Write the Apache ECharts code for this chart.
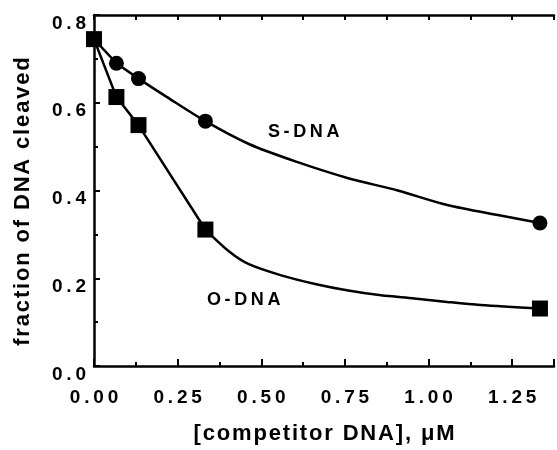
<!DOCTYPE html>
<html>
<head>
<meta charset="utf-8">
<script src="https://cdn.jsdelivr.net/npm/echarts@6/dist/echarts.min.js"></script>
<style>html,body{margin:0;padding:0;background:#fff}#c{width:557px;height:450px}</style>
</head>
<body>
<div id="c"></div>
<script>
// measured points
const concX = [0, 0.067, 0.133, 0.333, 1.333];
const sDnaY = [0.745, 0.690, 0.655, 0.558, 0.326];
const oDnaY = [0.745, 0.613, 0.549, 0.311, 0.131];
// hand-drawn curves: straight head part, smooth tail part
const sHeadX = [0, 0.067, 0.133];
const sHeadY = [0.745, 0.690, 0.655];
const sTailX = [0.133, 0.216, 0.333, 0.463, 0.611, 0.760, 0.908, 1.056, 1.215, 1.333];
const sTailY = [0.655, 0.614, 0.558, 0.506, 0.464, 0.428, 0.400, 0.367, 0.343, 0.326];
const oHeadX = [0, 0.067, 0.133, 0.333];
const oHeadY = [0.745, 0.613, 0.549, 0.311];
const oTailX = [0.333, 0.404, 0.463, 0.562, 0.661, 0.760, 0.858, 0.958, 1.056, 1.155, 1.333];
const oTailY = [0.311, 0.261, 0.232, 0.206, 0.187, 0.172, 0.161, 0.154, 0.146, 0.139, 0.131];
const xTickValues = [0, 0.25, 0.5, 0.75, 1.0, 1.25];
const xTickLabels = ['0.00', '0.25', '0.50', '0.75', '1.00', '1.25'];
const yTickValues = [0, 0.2, 0.4, 0.6, 0.8];
const yTickLabels = ['0.0', '0.2', '0.4', '0.6', '0.8'];
const seriesNames = ['S-DNA', 'O-DNA'];
const xTitle = '[competitor DNA], \u03bcM';
const yTitle = 'fraction of DNA cleaved';

const track = s => s.split('').join('\u200a');
const wide = s => s.split('').join('\u2009');
const pairs = (xs, ys) => xs.map((x, i) => [x, ys[i]]);
const lookup = (vals, labels, v) => {
  const i = vals.findIndex(t => Math.abs(t - v) < 1e-6);
  return i < 0 ? '' : wide(labels[i]);
};

const FONT = 'Liberation Sans';
const axisLine = {show: true, onZero: false, lineStyle: {color: '#000', width: 2.5}};
const curve = (xs, ys, smooth) => ({type: 'line', data: pairs(xs, ys), smooth: smooth,
  showSymbol: false, symbol: 'none',
  lineStyle: {color: '#000', width: 2.5}, z: 2, silent: true});
const chart = echarts.init(document.getElementById('c'), null, {renderer: 'canvas'});
chart.setOption({
  animation: false,
  backgroundColor: '#fff',
  grid: {left: 94, top: 15, width: 464, height: 359, containLabel: false},
  xAxis: [{
    type: 'value', position: 'bottom', min: 0, max: 1.375, interval: 0.25,
    axisLine: axisLine,
    axisTick: {show: true, inside: true, length: 7, lineStyle: {color: '#000', width: 2}},
    minorTick: {show: true, splitNumber: 2, length: 4, lineStyle: {color: '#000', width: 2}},
    splitLine: {show: false},
    axisLabel: {margin: 22, color: '#000', fontFamily: FONT, fontSize: 19, fontWeight: 'bold',
      formatter: v => lookup(xTickValues, xTickLabels, v)},
    name: track(xTitle), nameLocation: 'middle', nameGap: 57,
    nameTextStyle: {color: '#000', fontFamily: FONT, fontWeight: 'bold', fontSize: 22}
  }, {
    type: 'value', position: 'top', min: 0, max: 1.375, interval: 0.125,
    axisLine: axisLine,
    axisTick: {show: true, inside: true, length: 5, lineStyle: {color: '#000', width: 2}},
    splitLine: {show: false}, axisLabel: {show: false}
  }],
  yAxis: [{
    type: 'value', min: 0, max: 0.8, interval: 0.2,
    axisLine: axisLine,
    axisTick: {show: true, inside: true, length: 6, lineStyle: {color: '#000', width: 2}},
    minorTick: {show: true, splitNumber: 2, length: 4, lineStyle: {color: '#000', width: 2}},
    splitLine: {show: false},
    axisLabel: {margin: 8, color: '#000', fontFamily: FONT, fontSize: 19, fontWeight: 'bold',
      verticalAlign: 'top', lineHeight: 17,
      formatter: v => lookup(yTickValues, yTickLabels, v)},
    name: track(yTitle), nameLocation: 'middle', nameGap: 60, nameRotate: 90,
    nameTextStyle: {color: '#000', fontFamily: FONT, fontWeight: 'bold', fontSize: 22, padding: [0, 22, 0, 0]}
  }],
  series: [
    curve(sHeadX, sHeadY, false),
    curve(sTailX, sTailY, 0.3),
    curve(oHeadX, oHeadY, false),
    curve(oTailX, oTailY, 0.3),
    {type: 'scatter', name: seriesNames[0], data: pairs(concX, sDnaY), symbol: 'circle', symbolSize: 15,
      itemStyle: {color: '#000', opacity: 1}, z: 3},
    {type: 'scatter', name: seriesNames[1], data: pairs(concX, oDnaY), symbol: 'rect', symbolSize: 16,
      itemStyle: {color: '#000', opacity: 1}, z: 4}
  ],
  graphic: [
    {type: 'text', left: 268, top: 123, style: {text: wide(seriesNames[0]), fill: '#000',
      font: 'bold 18px "Liberation Sans"'}},
    {type: 'text', left: 207, top: 291, style: {text: wide(seriesNames[1]), fill: '#000',
      font: 'bold 18px "Liberation Sans"'}}
  ]
});
</script>
</body>
</html>
